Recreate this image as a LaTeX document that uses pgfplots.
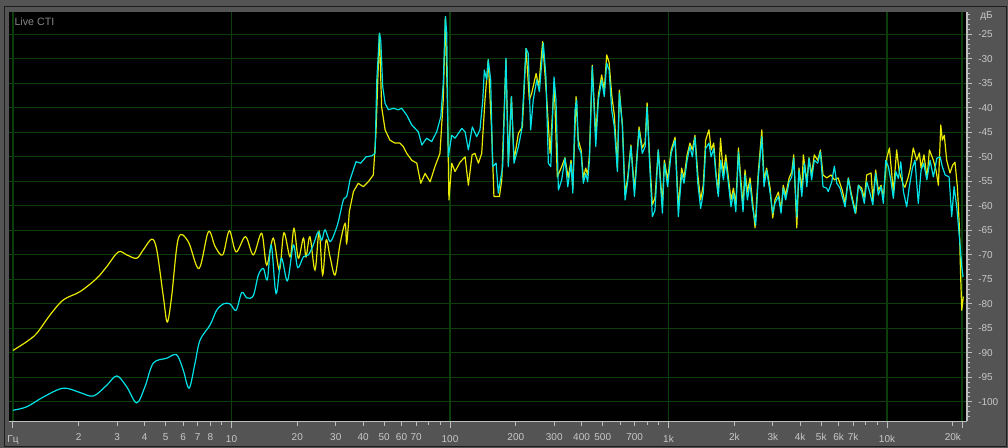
\documentclass[border=0pt]{standalone}
\usepackage{fontspec}
\setmainfont{Liberation Sans}
\usepackage{pgfplots}
\pgfplotsset{compat=1.18}
\usepackage{pgfplotstable}
\definecolor{bggray}{RGB}{84,84,84}
\definecolor{framedark}{RGB}{28,28,28}
\definecolor{gridgreen}{RGB}{12,62,12}
\definecolor{axgray}{RGB}{190,190,190}
\definecolor{lblgray}{RGB}{200,200,200}
\definecolor{ctigray}{RGB}{135,135,135}
\definecolor{specyellow}{RGB}{232,232,0}
\definecolor{speccyan}{RGB}{0,226,230}

% lf = log10(frequency / Hz), db = level in dB
\pgfplotstableread{
lf db
0.000 -89.5
0.063 -87.7
0.109 -86.0
0.169 -82.3
0.230 -79.2
0.307 -77.5
0.383 -74.8
0.429 -72.4
0.482 -69.4
0.520 -70.0
0.566 -70.7
0.596 -69.0
0.635 -66.8
0.658 -69.0
0.688 -78.5
0.706 -83.7
0.726 -78.5
0.757 -66.6
0.802 -67.3
0.851 -72.8
0.894 -65.3
0.925 -68.3
0.960 -70.0
0.990 -65.1
1.021 -69.4
1.064 -66.3
1.100 -70.0
1.138 -65.6
1.161 -72.1
1.191 -66.6
1.219 -73.1
1.240 -65.5
1.268 -70.4
1.286 -64.6
1.306 -70.7
1.329 -66.6
1.341 -70.4
1.359 -66.3
1.382 -73.1
1.401 -65.3
1.417 -74.1
1.433 -67.0
1.451 -70.4
1.474 -74.1
1.497 -67.7
1.520 -63.6
1.527 -67.7
1.539 -61.2
1.558 -57.1
1.580 -55.4
1.603 -56.1
1.626 -55.1
1.649 -53.7
1.661 -45.2
1.677 -24.8
1.687 -39.8
1.703 -44.5
1.725 -46.6
1.748 -47.2
1.771 -47.2
1.786 -47.9
1.802 -49.3
1.825 -50.7
1.848 -51.3
1.866 -55.4
1.886 -53.4
1.909 -55.1
1.931 -52.0
1.954 -49.3
1.969 -38.4
1.979 -21.4
1.988 -38.4
1.995 -58.8
2.008 -51.3
2.023 -53.0
2.046 -51.1
2.069 -50.0
2.084 -55.8
2.101 -49.6
2.114 -49.3
2.130 -51.3
2.145 -49.3
2.160 -38.4
2.175 -30.2
2.191 -45.2
2.201 -58.1
2.226 -58.1
2.237 -54.7
2.256 -30.2
2.267 -51.3
2.281 -37.7
2.293 -50.7
2.313 -45.2
2.331 -43.9
2.348 -27.9
2.363 -38.4
2.374 -37.0
2.394 -33.0
2.406 -35.7
2.424 -26.5
2.443 -38.4
2.458 -49.3
2.477 -35.0
2.491 -54.1
2.511 -52.0
2.526 -50.2
2.541 -54.3
2.554 -50.7
2.562 -56.4
2.577 -37.7
2.587 -46.6
2.600 -48.6
2.610 -54.3
2.621 -52.3
2.630 -53.7
2.638 -49.6
2.651 -31.3
2.667 -45.6
2.679 -37.4
2.694 -33.3
2.706 -36.4
2.717 -29.2
2.728 -30.7
2.740 -37.4
2.752 -41.5
2.766 -52.3
2.775 -36.4
2.789 -43.5
2.801 -57.8
2.813 -54.3
2.828 -47.6
2.844 -56.8
2.865 -43.9
2.880 -48.2
2.893 -47.0
2.902 -39.0
2.912 -49.0
2.926 -59.8
2.938 -58.4
2.953 -48.6
2.972 -59.8
2.981 -50.7
2.996 -54.7
3.012 -48.6
3.030 -46.0
3.045 -60.4
3.060 -52.3
3.071 -54.3
3.085 -49.6
3.098 -47.2
3.109 -48.6
3.121 -45.6
3.134 -53.7
3.147 -58.8
3.159 -55.8
3.170 -46.6
3.185 -44.5
3.195 -48.6
3.207 -47.2
3.216 -52.7
3.226 -57.5
3.238 -46.2
3.251 -53.7
3.262 -49.6
3.274 -54.3
3.286 -58.8
3.297 -56.4
3.308 -59.8
3.320 -48.2
3.331 -54.7
3.341 -59.8
3.350 -52.7
3.361 -57.2
3.373 -54.3
3.384 -58.8
3.396 -64.5
3.411 -53.1
3.427 -44.5
3.437 -54.7
3.449 -52.3
3.465 -56.4
3.477 -62.5
3.487 -58.8
3.503 -57.2
3.515 -60.9
3.525 -55.8
3.536 -57.8
3.552 -54.3
3.564 -53.1
3.573 -49.6
3.587 -64.5
3.597 -52.3
3.610 -56.8
3.617 -49.6
3.633 -55.1
3.643 -50.2
3.655 -53.7
3.667 -49.6
3.683 -50.7
3.695 -48.6
3.707 -53.7
3.724 -54.3
3.744 -53.7
3.759 -54.7
3.776 -54.3
3.795 -56.8
3.808 -59.4
3.823 -54.3
3.835 -57.2
3.857 -61.5
3.869 -55.8
3.884 -56.4
3.896 -58.4
3.907 -53.7
3.927 -53.3
3.935 -58.8
3.948 -52.7
3.960 -56.8
3.973 -55.8
3.983 -58.4
3.999 -50.2
4.011 -48.2
4.022 -53.7
4.029 -57.2
4.044 -48.6
4.056 -53.1
4.075 -55.8
4.082 -56.2
4.096 -54.3
4.105 -52.7
4.120 -48.2
4.136 -50.7
4.148 -49.2
4.156 -52.3
4.169 -49.6
4.183 -54.3
4.194 -48.6
4.212 -50.7
4.224 -52.7
4.235 -55.8
4.246 -43.5
4.253 -46.6
4.262 -45.6
4.273 -50.7
4.288 -53.3
4.300 -51.7
4.311 -51.1
4.322 -56.2
4.331 -64.3
4.337 -74.5
4.342 -81.3
4.345 -80.2
4.349 -78.5
}\yellowdata

\pgfplotstableread{
lf db
0.000 -101.7
0.063 -101.0
0.139 -99.0
0.230 -97.2
0.307 -98.1
0.368 -98.8
0.429 -96.6
0.475 -94.7
0.520 -96.9
0.566 -100.2
0.604 -96.9
0.642 -92.1
0.703 -91.1
0.749 -90.4
0.779 -93.5
0.806 -97.2
0.833 -92.1
0.856 -87.4
0.902 -84.3
0.932 -81.3
0.963 -80.0
0.993 -80.0
1.021 -81.3
1.047 -77.7
1.071 -78.8
1.100 -78.3
1.123 -74.1
1.146 -72.8
1.164 -75.1
1.182 -68.0
1.204 -77.9
1.228 -70.7
1.256 -75.3
1.283 -68.0
1.303 -72.6
1.329 -70.4
1.352 -70.0
1.374 -68.0
1.397 -65.3
1.413 -67.0
1.428 -64.9
1.451 -67.3
1.474 -65.3
1.489 -63.2
1.512 -58.8
1.527 -58.1
1.542 -54.7
1.570 -51.0
1.591 -51.3
1.616 -50.0
1.642 -49.8
1.657 -49.3
1.665 -34.3
1.677 -24.8
1.683 -26.2
1.692 -35.7
1.703 -39.1
1.718 -40.4
1.741 -40.1
1.763 -40.4
1.779 -40.1
1.802 -41.5
1.825 -43.5
1.855 -44.9
1.871 -47.6
1.893 -46.2
1.916 -46.9
1.939 -44.9
1.958 -41.8
1.969 -35.0
1.979 -21.4
1.985 -24.8
1.992 -50.0
2.008 -45.6
2.023 -46.2
2.054 -44.2
2.069 -44.9
2.084 -48.6
2.102 -43.9
2.122 -45.9
2.137 -44.5
2.150 -38.4
2.157 -32.3
2.168 -34.3
2.175 -30.2
2.186 -34.3
2.195 -52.0
2.211 -51.3
2.221 -57.4
2.241 -52.0
2.256 -29.9
2.267 -52.0
2.281 -37.7
2.293 -51.3
2.313 -47.9
2.328 -44.5
2.348 -27.9
2.358 -28.9
2.369 -44.5
2.381 -38.4
2.397 -34.3
2.409 -36.7
2.427 -26.8
2.439 -33.7
2.450 -51.3
2.461 -52.0
2.476 -33.7
2.485 -38.4
2.496 -56.8
2.511 -54.7
2.526 -50.3
2.539 -56.1
2.554 -51.3
2.562 -57.4
2.572 -40.4
2.580 -38.4
2.587 -47.9
2.600 -49.3
2.610 -55.4
2.621 -53.4
2.630 -55.1
2.638 -50.7
2.651 -31.6
2.667 -47.9
2.679 -38.4
2.694 -34.3
2.706 -37.7
2.717 -30.9
2.728 -32.3
2.740 -40.4
2.752 -43.9
2.766 -53.0
2.775 -37.0
2.789 -43.9
2.801 -58.8
2.813 -55.1
2.828 -47.9
2.844 -58.1
2.865 -44.5
2.880 -49.3
2.893 -47.9
2.902 -39.8
2.912 -50.0
2.926 -62.2
2.938 -60.9
2.953 -48.6
2.972 -61.5
2.981 -51.3
2.996 -56.1
3.012 -49.3
3.030 -46.6
3.045 -62.2
3.060 -53.4
3.071 -55.4
3.085 -50.7
3.098 -47.9
3.109 -50.0
3.121 -46.0
3.134 -55.4
3.147 -60.5
3.159 -57.4
3.170 -48.3
3.185 -47.2
3.195 -50.0
3.207 -48.3
3.216 -53.4
3.228 -58.1
3.239 -50.7
3.251 -54.7
3.262 -51.0
3.274 -55.4
3.286 -60.2
3.297 -57.4
3.308 -61.2
3.320 -49.0
3.331 -56.1
3.341 -61.2
3.350 -53.7
3.361 -58.8
3.373 -55.4
3.384 -60.2
3.399 -63.9
3.411 -54.1
3.427 -45.9
3.437 -56.1
3.449 -52.7
3.465 -57.4
3.477 -61.5
3.487 -59.5
3.503 -58.1
3.515 -61.5
3.525 -56.4
3.536 -58.8
3.552 -55.1
3.564 -54.1
3.573 -50.3
3.587 -62.2
3.597 -52.7
3.610 -58.1
3.622 -51.3
3.633 -56.1
3.643 -50.3
3.655 -54.7
3.667 -50.7
3.683 -51.3
3.695 -49.0
3.707 -56.1
3.724 -56.4
3.731 -57.1
3.747 -55.1
3.759 -51.9
3.770 -55.4
3.785 -56.4
3.795 -58.1
3.808 -60.2
3.823 -54.4
3.835 -57.8
3.854 -61.5
3.869 -55.8
3.884 -57.1
3.896 -59.5
3.907 -55.1
3.922 -57.4
3.935 -59.8
3.948 -53.4
3.960 -57.8
3.973 -56.1
3.983 -59.5
3.994 -50.7
4.006 -52.0
4.017 -54.7
4.029 -58.5
4.040 -53.0
4.052 -54.4
4.063 -51.0
4.075 -57.1
4.090 -60.2
4.102 -56.1
4.116 -52.3
4.128 -50.7
4.143 -59.5
4.156 -52.7
4.168 -51.3
4.182 -54.7
4.197 -50.7
4.212 -54.1
4.228 -50.3
4.243 -50.0
4.253 -52.0
4.266 -53.7
4.284 -54.1
4.296 -62.2
4.307 -56.1
4.319 -60.2
4.331 -66.3
4.342 -72.4
4.348 -74.5
}\cyandata

\begin{document}
\begin{tikzpicture}
\fill[bggray] (0pt,0pt) rectangle (756pt,336pt);
\path[use as bounding box] (0pt,0pt) rectangle (756pt,336pt);
\draw[framedark, line width=0.75pt] (3.375pt,1.125pt) rectangle (754.875pt,331.125pt);
\begin{axis}[
  at={(6.75pt,19.875pt)}, anchor=south west,
  scale only axis, width=718.5pt, height=307.125pt,
  xmin=-0.0183, xmax=4.366, ymin=-104, ymax=-20.45,
  axis background/.style={fill=black},
  axis x line=bottom, axis y line=right,
  axis line style={-, draw=axgray, line width=0.9pt},
  tick align=outside,
  tick style={draw=axgray, line width=0.75pt},
  major tick length=3.4pt, minor tick length=2.6pt,
  xtick={0.30103,0.47712,0.60206,0.69897,0.77815,0.84510,0.90309,1.30103,1.47712,1.60206,1.69897,1.77815,1.84510,2.30103,2.47712,2.60206,2.69897,2.84510,3.30103,3.47712,3.60206,3.69897,3.77815,3.84510,4.30103},
  xticklabels={2,3,4,5,6,7,8,20,30,40,50,60,70,200,300,400,500,700,2k,3k,4k,5k,6k,7k,20k},
  minor xtick={0.95424,1.90309,1.95424,2.77815,2.90309,2.95424,3.90309,3.95424},
  extra x ticks={0,1,2,3,4,4.34341},
  extra x tick labels={Гц,10,100,1k,10k,{}},
  extra x tick style={grid=major, major tick length=5.25pt, tick label style={text=white}},
  ytick={-100,-95,...,-25},
  yticklabels={-100,-95,-90,-85,-80,-75,-70,-65,-60,-55,-50,-45,-40,-35,-30,-25},
  minor ytick={-103,-102,...,-21},
  ymajorgrids=true,
  major grid style={draw=gridgreen, line width=0.9pt},
  every tick label/.append style={font=\fontsize{7.5}{9}\selectfont},
  xticklabel style={text=lblgray, yshift=-1.8pt},
  yticklabel style={text=lblgray, xshift=1.5pt},
]
% low-frequency part: smooth curves
\addplot[specyellow, line width=0.9pt, smooth, tension=0.55, restrict x to domain=-1:1.545] table[x=lf,y=db]{\yellowdata};
% upper part: straight segments
\addplot[specyellow, line width=0.9pt, line join=round, restrict x to domain=1.535:5] table[x=lf,y=db]{\yellowdata};
\addplot[speccyan, line width=0.9pt, smooth, tension=0.55, restrict x to domain=-1:1.545] table[x=lf,y=db]{\cyandata};
\addplot[speccyan, line width=0.9pt, line join=round, restrict x to domain=1.535:5] table[x=lf,y=db]{\cyandata};
\end{axis}
\node[anchor=base west, text=ctigray, font=\fontsize{8}{9}\selectfont, inner sep=0pt] at (10.7pt,316.5pt) {Live CTI};
\node[anchor=base west, text=lblgray, font=\fontsize{7.5}{9}\selectfont, inner sep=0pt] at (735pt,321.75pt) {дБ};
\end{tikzpicture}
\end{document}
